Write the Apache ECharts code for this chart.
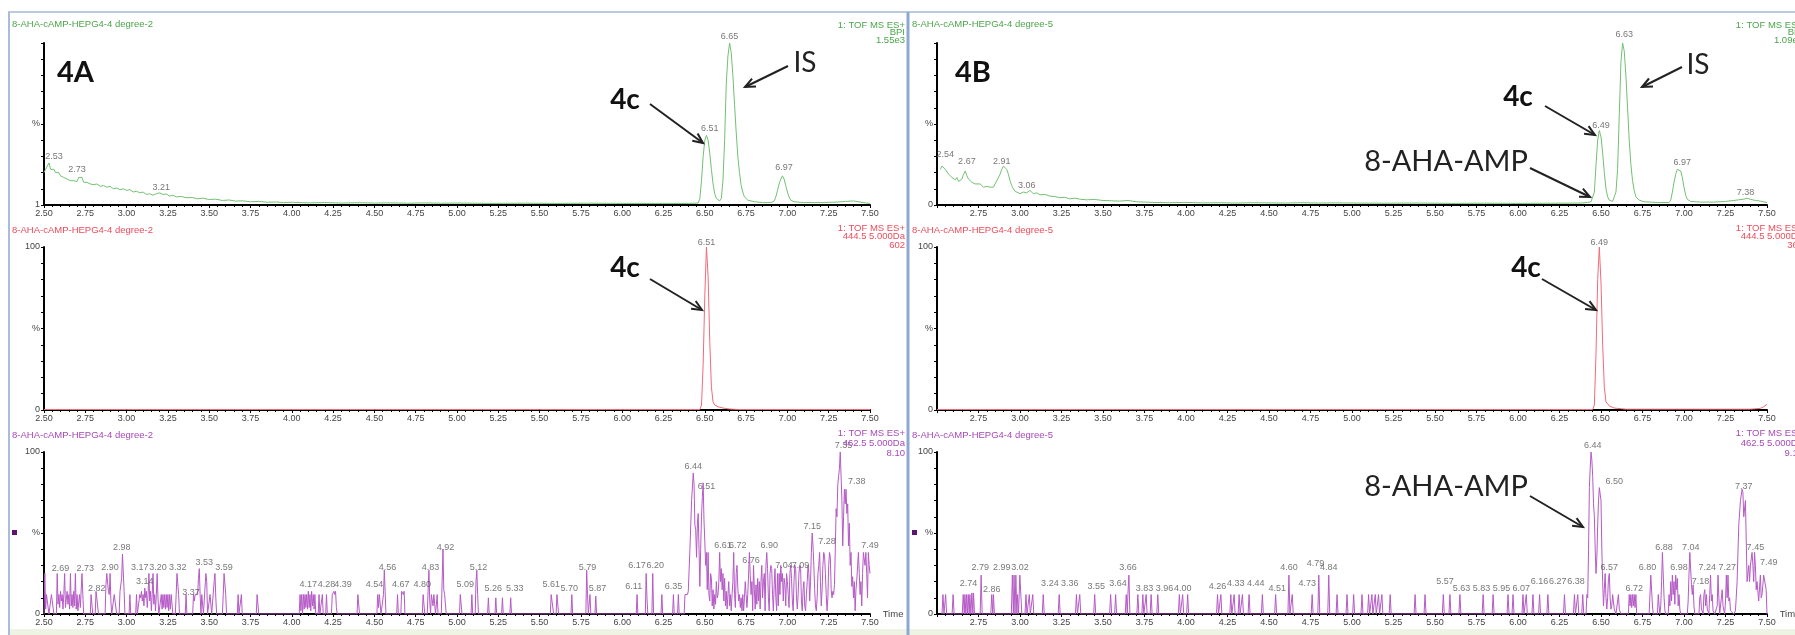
<!DOCTYPE html>
<html><head><meta charset="utf-8">
<script src="https://cdn.jsdelivr.net/npm/echarts/dist/echarts.min.js"></script>
<style>html,body{margin:0;padding:0;background:#fff}#c{width:1795px;height:635px}</style>
</head><body><div id="c"></div>
<script>
// ---------------- DATA ----------------
const timeTicks = ['2.50','2.75','3.00','3.25','3.50','3.75','4.00','4.25','4.50','4.75','5.00','5.25','5.50','5.75','6.00','6.25','6.50','6.75','7.00','7.25','7.50'];
const panelNames = ['4A','4B'];
const sampleNames = ['8-AHA-cAMP-HEPG4-4 degree-2','8-AHA-cAMP-HEPG4-4 degree-5'];
const infoA = [['1: TOF MS ES+','BPI','1.55e3'],['1: TOF MS ES+','444.5 5.000Da','602'],['1: TOF MS ES+','462.5 5.000Da','8.10']];
const infoB = [['1: TOF MS ES+','BPI','1.09e3'],['1: TOF MS ES+','444.5 5.000Da','364'],['1: TOF MS ES+','462.5 5.000Da','9.10']];

// 4A, BPI trace (% of 1.55e3)
const bpiA = [[2.50,20],[2.51,22],[2.52,24],[2.53,26],[2.54,22],[2.55,21],[2.56,22],[2.57,20],[2.58,19],[2.59,20],[2.60,18],[2.61,19],[2.62,17],[2.63,18],[2.64,16],[2.65,17],[2.66,15],[2.67,16],[2.68,15],[2.69,16],[2.70,14.5],[2.71,17],[2.72,18],[2.73,17],[2.74,14],[2.76,14],[2.78,13],[2.80,12.5],[2.82,13],[2.84,11.5],[2.86,12],[2.88,11],[2.90,11.5],[2.92,10],[2.94,10.5],[2.96,9.5],[2.98,10],[3.00,9],[3.02,9.5],[3.04,8],[3.06,8.5],[3.08,7.5],[3.10,8],[3.12,6.5],[3.14,7],[3.16,6],[3.18,7],[3.20,7.5],[3.22,6.5],[3.24,6.8],[3.26,5.5],[3.28,6],[3.30,5],[3.33,5.3],[3.36,4.5],[3.40,4.6],[3.43,3.8],[3.46,4.2],[3.50,3.4],[3.54,3.6],[3.58,2.8],[3.62,3.1],[3.66,2.4],[3.70,2.6],[3.75,2.0],[3.80,2.2],[3.85,1.7],[3.90,1.9],[3.95,1.5],[4.00,1.7],[4.10,1.3],[4.20,1.5],[4.30,1.2],[4.40,1.4],[4.50,1.2],[4.60,1.3],[4.70,1.1],[4.80,1.3],[4.90,1.1],[5.00,1.2],[5.20,1.0],[5.40,1.1],[5.60,1.0],[5.80,1.1],[6.00,1.0],[6.20,1.0],[6.40,1.0],[6.46,1.2],[6.47,4],[6.48,15],[6.49,30],[6.50,40],[6.51,43],[6.52,40],[6.53,32],[6.54,22],[6.55,13],[6.56,7],[6.57,4],[6.58,3],[6.59,2.5],[6.60,4],[6.61,15],[6.62,40],[6.63,75],[6.64,92],[6.65,100],[6.66,94],[6.67,80],[6.68,62],[6.69,45],[6.70,30],[6.71,20],[6.72,12],[6.73,8],[6.74,5],[6.76,3],[6.80,2],[6.85,1.5],[6.90,1.5],[6.92,2.5],[6.93,5],[6.94,9],[6.95,13],[6.96,16],[6.97,18],[6.98,16],[6.99,12],[7.00,8],[7.01,5],[7.02,3],[7.04,2],[7.10,1.5],[7.20,1.5],[7.30,1.8],[7.35,2.2],[7.40,2.5],[7.44,1.8],[7.48,1.2],[7.50,1.0]];
const bpiAPeaks = [[2.56,30,'2.53'],[2.70,22,'2.73'],[3.21,11,'3.21'],[6.53,47,'6.51'],[6.65,104,'6.65'],[6.98,23,'6.97']];

// 4A, XIC 444.5 (% of 602)
const xic444A = [[2.50,0.3],[3.00,0.3],[3.50,0.3],[4.00,0.3],[4.50,0.3],[5.00,0.3],[5.50,0.3],[6.00,0.3],[6.47,0.3],[6.48,3],[6.49,28],[6.50,70],[6.51,100],[6.52,82],[6.53,42],[6.54,14],[6.55,5],[6.56,3],[6.58,2],[6.61,1.2],[6.65,0.6],[6.70,0.3],[7.50,0.3]];
const xic444APeaks = [[6.51,103,'6.51']];

// 4A, XIC 462.5 (% of 8.10)
const xic462A = [[2.500,0],[2.505,25],[2.510,3],[2.515,12],[2.525,12],[2.530,0],[2.540,0],[2.545,12],[2.555,12],[2.560,0],
[2.575,0],[2.580,25],[2.585,6],[2.590,12],[2.595,4],[2.600,14],[2.605,8],[2.610,12],[2.615,3],[2.620,12],[2.625,25],[2.630,4],[2.640,14],[2.645,6],[2.650,12],[2.655,3],[2.660,25],[2.665,5],[2.670,12],[2.675,4],[2.680,14],[2.685,5],[2.690,25],[2.695,3],[2.700,12],[2.705,2],[2.715,12],[2.720,4],[2.730,25],[2.735,12],[2.740,0],
[2.780,0],[2.785,12],[2.790,12],[2.795,0],[2.810,0],[2.815,14],[2.825,14],[2.830,0],
[2.870,0],[2.875,18],[2.880,25],[2.885,25],[2.890,14],[2.895,12],[2.900,25],[2.905,8],[2.910,0],[2.920,0],[2.925,12],[2.935,12],[2.940,0],[2.955,0],[2.960,14],[2.965,14],[2.970,22],[2.975,37],[2.980,37],[2.985,14],[2.990,0],
[3.015,0],[3.020,12],[3.025,0],[3.055,0],[3.060,12],[3.065,0],[3.075,0],[3.080,12],[3.085,10],[3.090,14],[3.095,8],[3.100,12],[3.105,5],[3.110,16],[3.115,10],[3.120,14],[3.125,4],[3.130,12],[3.135,25],[3.140,8],[3.145,14],[3.150,2],[3.155,12],[3.160,25],[3.165,6],[3.170,12],[3.175,2],[3.180,12],[3.185,25],[3.190,10],[3.195,0],
[3.205,0],[3.210,12],[3.215,3],[3.220,12],[3.225,4],[3.230,12],[3.235,3],[3.240,12],[3.245,4],[3.250,12],[3.255,2],[3.260,12],[3.265,3],[3.270,12],[3.275,12],[3.280,0],[3.295,0],[3.300,12],[3.305,25],[3.310,25],[3.315,12],[3.320,0],
[3.355,0],[3.360,12],[3.365,0],[3.400,0],[3.405,12],[3.410,8],[3.415,12],[3.420,12],[3.425,12],[3.430,12],[3.435,22],[3.440,28],[3.445,12],[3.450,0],[3.455,12],[3.460,12],[3.465,0],[3.475,0],[3.480,25],[3.485,20],[3.490,0],[3.500,0],[3.505,12],[3.510,12],[3.515,0],[3.525,0],[3.530,20],[3.535,25],[3.540,10],[3.545,0],
[3.580,0],[3.585,12],[3.590,25],[3.595,25],[3.600,12],[3.605,0],[3.670,0],[3.675,12],[3.680,0],[3.690,0],[3.695,12],[3.700,0],[3.785,0],[3.790,12],[3.795,12],[3.800,0],
[4.045,0],[4.050,12],[4.055,2],[4.060,12],[4.065,0],[4.070,12],[4.075,3],[4.080,12],[4.085,4],[4.090,12],[4.095,3],[4.100,14],[4.105,4],[4.110,12],[4.115,2],[4.120,14],[4.125,5],[4.130,12],[4.135,3],[4.140,12],[4.145,0],[4.160,0],[4.165,12],[4.170,0],[4.180,0],[4.185,12],[4.190,0],[4.205,0],[4.210,12],[4.215,0],[4.240,0],[4.245,12],[4.250,12],[4.255,14],[4.260,12],[4.265,14],[4.270,4],[4.275,0],
[4.395,0],[4.400,12],[4.405,12],[4.410,0],
[4.515,0],[4.520,12],[4.525,4],[4.530,12],[4.535,12],[4.540,0],[4.550,0],[4.555,12],[4.560,27],[4.565,14],[4.570,0],
[4.635,0],[4.640,12],[4.645,0],[4.660,0],[4.665,14],[4.670,14],[4.675,12],[4.680,14],[4.685,0],
[4.790,0],[4.795,12],[4.800,12],[4.805,0],[4.820,0],[4.825,14],[4.830,27],[4.835,8],[4.840,0],[4.845,12],[4.850,12],[4.855,5],[4.860,12],[4.865,12],[4.870,0],[4.875,0],[4.880,12],[4.885,0],[4.905,0],[4.910,20],[4.915,40],[4.920,15],[4.925,12],[4.930,12],[4.935,0],
[5.015,0],[5.020,12],[5.025,12],[5.030,0],[5.085,0],[5.090,12],[5.095,0],[5.110,0],[5.115,20],[5.120,27],[5.125,12],[5.130,0],
[5.185,0],[5.190,10],[5.195,0],[5.230,0],[5.235,10],[5.240,0],[5.270,0],[5.275,10],[5.280,0],[5.320,0],[5.325,10],[5.330,0],
[5.565,0],[5.570,12],[5.575,12],[5.580,12],[5.585,0],[5.600,0],[5.605,12],[5.610,12],[5.615,0],[5.690,0],[5.695,12],[5.700,0],[5.780,0],[5.785,27],[5.790,12],[5.795,0],[5.800,0],[5.805,12],[5.810,0],
[5.835,0],[5.840,11],[5.845,0],
[6.085,0],[6.090,12],[6.095,0],[6.140,0],[6.145,25],[6.150,10],[6.155,0],[6.180,0],[6.185,25],[6.190,0],[6.235,0],[6.240,12],[6.245,0],[6.305,0],[6.310,12],[6.315,0],[6.335,0],[6.340,12],[6.345,0],[6.375,0],[6.380,12],[6.395,12],[6.400,14],
[6.405,14],[6.410,40],[6.420,70],[6.430,87],[6.435,80],[6.440,55],[6.445,52],[6.450,35],[6.455,55],[6.460,62],[6.465,40],[6.470,17],[6.475,40],[6.480,60],[6.485,72],[6.490,81],[6.495,58],[6.500,45],[6.505,30],[6.510,38],[6.515,15],[6.520,38],[6.525,12],[6.530,8],[6.535,25],[6.540,22],[6.545,5],[6.550,15],[6.555,3],[6.560,12],[6.565,6],[6.570,20],[6.575,10],[6.580,12],[6.585,20],[6.590,38],[6.595,20],[6.600,28],[6.605,15],[6.610,25],[6.615,8],[6.620,22],[6.625,5],[6.630,14],[6.635,3],[6.640,12],[6.645,20],[6.650,5],[6.655,12],[6.660,2],[6.665,12],[6.670,20],[6.675,38],[6.680,12],[6.685,4],[6.690,25],[6.695,30],[6.700,16],[6.705,8],[6.710,12],[6.715,4],[6.720,10],[6.725,2],[6.730,12],[6.735,2],[6.740,10],[6.745,20],[6.750,12],[6.755,4],[6.760,12],[6.765,24],[6.770,38],[6.775,24],[6.780,12],[6.785,20],[6.790,2],[6.795,30],[6.800,15],[6.805,3],[6.810,18],[6.815,6],[6.820,22],[6.825,8],[6.830,20],[6.835,3],[6.840,20],[6.845,30],[6.850,10],[6.855,20],[6.860,25],[6.865,2],[6.870,30],[6.875,38],[6.880,28],[6.885,10],[6.890,2],[6.895,25],[6.900,30],[6.905,28],[6.910,12],[6.915,2],[6.920,18],[6.925,28],[6.930,10],[6.935,2],[6.940,25],[6.945,5],[6.950,25],[6.955,12],[6.960,30],[6.965,20],[6.970,25],[6.975,8],[6.980,22],[6.985,18],[6.990,5],[6.995,25],[7.000,20],[7.005,12],[7.010,4],[7.015,25],[7.020,30],[7.025,22],[7.030,8],[7.035,2],[7.040,20],[7.045,30],[7.050,28],[7.055,10],[7.060,3],[7.065,12],[7.070,25],[7.075,30],[7.080,28],[7.085,8],[7.090,2],[7.095,15],[7.100,20],[7.105,5],[7.110,2],[7.115,12],[7.120,20],[7.125,30],[7.130,25],[7.135,8],[7.140,20],[7.145,38],[7.150,50],[7.155,42],[7.160,30],[7.165,15],[7.170,5],[7.175,2],[7.180,10],[7.185,25],[7.190,30],[7.195,38],[7.200,20],[7.205,5],[7.210,15],[7.215,30],[7.220,38],[7.225,36],[7.230,25],[7.235,12],[7.240,2],[7.245,10],[7.250,30],[7.255,38],[7.260,35],[7.265,15],[7.270,10],[7.275,14],[7.280,12],[7.285,18],[7.290,40],[7.295,65],[7.300,60],[7.305,80],[7.310,85],[7.315,90],[7.320,100],[7.325,100],[7.330,70],[7.335,42],[7.340,60],[7.345,77],[7.350,68],[7.355,77],[7.360,62],[7.365,68],[7.370,42],[7.375,56],[7.380,30],[7.385,38],[7.390,17],[7.395,23],[7.400,10],[7.405,20],[7.410,2],[7.415,15],[7.420,21],[7.425,30],[7.430,38],[7.435,25],[7.440,12],[7.445,20],[7.450,5],[7.455,25],[7.460,38],[7.465,38],[7.470,30],[7.475,38],[7.480,25],[7.485,10],[7.490,38],[7.495,30],[7.500,25]];
const xic462APeaks = [[2.60,28,'2.69'],[2.75,28,'2.73'],[2.82,15.5,'2.82'],[2.90,29,'2.90'],[2.97,41,'2.98'],[3.11,20,'3.14'],[3.08,29,'3.17'],[3.19,29,'3.20'],[3.31,29,'3.32'],[3.39,13,'3.37'],[3.47,32,'3.53'],[3.59,29,'3.59'],[4.10,18.5,'4.17'],[4.21,18.5,'4.28'],[4.31,18.5,'4.39'],[4.50,18.5,'4.54'],[4.58,29,'4.56'],[4.66,18.5,'4.67'],[4.79,18.5,'4.80'],[4.84,29,'4.83'],[4.93,41,'4.92'],[5.05,18.5,'5.09'],[5.13,29,'5.12'],[5.22,15.5,'5.26'],[5.35,15.5,'5.33'],[5.57,18.5,'5.61'],[5.68,15.5,'5.70'],[5.79,29,'5.79'],[5.85,16,'5.87'],[6.07,17,'6.11'],[6.09,30,'6.17'],[6.20,30,'6.20'],[6.31,17,'6.35'],[6.43,91,'6.44'],[6.51,79,'6.51'],[6.61,42,'6.61'],[6.70,42,'6.72'],[6.78,33,'6.76'],[6.89,42,'6.90'],[6.98,30,'7.04'],[7.08,30,'7.09'],[7.15,54,'7.15'],[7.24,45,'7.28'],[7.34,104,'7.35'],[7.42,82,'7.38'],[7.50,42,'7.49']];

// 4B, BPI trace (% of 1.09e3)
const bpiB = [[2.52,22],[2.53,24],[2.54,25],[2.55,22],[2.56,21],[2.57,19],[2.58,20],[2.59,17],[2.60,18],[2.61,15.5],[2.62,17],[2.63,14.5],[2.64,15],[2.65,16],[2.66,19],[2.67,21],[2.68,18],[2.69,16],[2.70,15],[2.71,14],[2.72,15],[2.73,13],[2.74,12.5],[2.76,13],[2.78,11],[2.80,11.5],[2.82,11],[2.84,11],[2.85,11.5],[2.86,15],[2.87,16],[2.88,19],[2.89,22],[2.90,24],[2.91,24],[2.92,22],[2.93,19],[2.94,15],[2.95,12],[2.96,10],[2.97,8.5],[2.98,7.5],[3.00,7],[3.02,8],[3.04,7.5],[3.06,9],[3.08,7],[3.10,7.5],[3.12,6.3],[3.15,6.5],[3.18,5.5],[3.21,5.2],[3.24,4.5],[3.27,4.8],[3.30,3.8],[3.33,4.2],[3.36,3.6],[3.40,3.2],[3.45,3.4],[3.50,2.8],[3.55,2.6],[3.60,2.4],[3.65,2.8],[3.70,2.0],[3.75,1.8],[3.80,1.6],[3.90,1.4],[4.00,1.6],[4.10,1.3],[4.20,1.4],[4.30,1.2],[4.40,1.4],[4.50,1.3],[4.60,1.2],[4.70,1.4],[4.80,1.2],[4.90,1.3],[5.00,1.2],[5.20,1.1],[5.40,1.2],[5.60,1.0],[5.80,1.1],[6.00,1.0],[6.20,1.1],[6.38,1.2],[6.42,1.6],[6.44,2.0],[6.45,2.5],[6.46,8],[6.47,25],[6.48,40],[6.49,46],[6.50,42],[6.51,32],[6.52,20],[6.53,10],[6.54,5],[6.55,3],[6.56,2.5],[6.57,2.2],[6.58,3],[6.59,8],[6.60,22],[6.61,55],[6.62,88],[6.63,100],[6.64,95],[6.65,80],[6.66,60],[6.67,40],[6.68,25],[6.69,15],[6.70,9],[6.71,5],[6.73,3],[6.76,2],[6.85,1.5],[6.91,1.5],[6.92,3],[6.93,8],[6.94,14],[6.95,19],[6.96,22],[6.97,23],[6.98,21],[6.99,17],[7.00,11],[7.01,6],[7.02,3.5],[7.04,2.2],[7.10,1.8],[7.18,1.8],[7.25,2.2],[7.30,2.8],[7.33,3.2],[7.36,3.6],[7.38,4.2],[7.40,3.5],[7.43,2.8],[7.46,2.4],[7.50,1.5]];
const bpiBPeaks = [[2.55,31,'2.54'],[2.68,27,'2.67'],[2.89,27,'2.91'],[3.04,12,'3.06'],[6.64,105,'6.63'],[6.50,49,'6.49'],[6.99,26,'6.97'],[7.37,7.5,'7.38']];

// 4B, XIC 444.5
const xic444B = [[2.50,0.3],[3.00,0.3],[3.50,0.3],[4.00,0.3],[4.50,0.3],[5.00,0.3],[5.50,0.3],[6.00,0.3],[6.45,0.3],[6.46,3],[6.47,35],[6.48,80],[6.49,100],[6.50,78],[6.51,40],[6.52,14],[6.53,5],[6.55,2.5],[6.58,1.2],[6.65,0.5],[7.40,0.5],[7.46,1],[7.48,2],[7.50,3.5]];
const xic444BPeaks = [[6.49,103,'6.49']];

// 4B, XIC 462.5
const xic462B = [[2.530,0],[2.536,12],[2.542,0],[2.546,0],[2.552,12],[2.558,0],
[2.591,0],[2.597,12],[2.603,0],
[2.652,0],[2.658,12],[2.664,0],[2.668,12],[2.674,0],[2.678,12],[2.684,0],[2.688,12],[2.694,0],[2.698,12],[2.704,0],[2.710,13],[2.716,0],[2.720,13],[2.726,0],
[2.760,0],[2.766,24],[2.772,0],
[2.824,0],[2.830,12],[2.836,0],[2.840,12],[2.846,0],
[2.948,0],[2.954,24],[2.960,0],[2.964,24],[2.970,0],[2.975,24],[2.981,0],[2.985,12],[2.991,0],[2.999,24],[3.005,24],[3.011,0],[3.030,0],[3.036,12],[3.042,0],[3.050,0],[3.056,12],[3.062,0],[3.071,0],[3.077,12],[3.083,0],
[3.134,0],[3.140,12],[3.146,0],
[3.230,0],[3.236,12],[3.242,0],
[3.334,0],[3.340,12],[3.346,0],[3.354,0],[3.360,12],[3.366,0],
[3.444,0],[3.450,12],[3.456,0],
[3.540,0],[3.546,12],[3.552,0],[3.570,0],[3.576,12],[3.582,0],
[3.634,0],[3.640,12],[3.646,0],[3.650,12],[3.656,24],[3.662,0],
[3.704,0],[3.710,12],[3.716,0],[3.734,0],[3.740,12],[3.746,0],[3.754,0],[3.760,12],[3.766,0],[3.784,0],[3.790,12],[3.796,0],[3.824,0],[3.830,12],[3.836,0],
[3.954,0],[3.960,12],[3.966,0],[3.974,0],[3.980,12],[3.986,0],[4.004,0],[4.010,12],[4.016,0],
[4.184,0],[4.190,12],[4.196,0],[4.204,0],[4.210,12],[4.216,0],
[4.264,0],[4.270,12],[4.276,0],[4.284,0],[4.290,12],[4.296,0],[4.314,0],[4.320,12],[4.326,0],[4.334,0],[4.340,12],[4.346,0],[4.374,0],[4.380,12],[4.386,0],
[4.454,0],[4.460,12],[4.466,0],[4.534,0],[4.540,12],[4.546,0],
[4.614,0],[4.620,24],[4.626,0],[4.634,0],[4.640,12],[4.646,0],
[4.754,0],[4.760,12],[4.766,0],[4.794,0],[4.800,24],[4.806,0],[4.854,0],[4.860,24],[4.866,0],[4.904,0],[4.910,12],[4.916,0],[4.964,0],[4.970,12],[4.976,0],
[5.004,0],[5.010,12],[5.016,0],[5.054,0],[5.060,12],[5.066,0],[5.094,0],[5.100,12],[5.106,0],[5.114,0],[5.120,12],[5.126,0],[5.134,0],[5.140,12],[5.146,0],[5.154,0],[5.160,12],[5.166,0],[5.174,0],[5.180,12],[5.186,0],[5.224,0],[5.230,12],[5.236,0],
[5.374,0],[5.380,12],[5.386,0],[5.434,0],[5.440,12],[5.446,0],[5.544,0],[5.550,12],[5.556,0],[5.584,0],[5.590,12],[5.596,0],[5.644,0],[5.650,12],[5.656,0],
[5.784,0],[5.790,12],[5.796,0],[5.844,0],[5.850,12],[5.856,0],[5.934,0],[5.940,12],[5.946,0],[5.964,0],[5.970,12],[5.976,0],
[6.024,0],[6.030,12],[6.036,0],[6.044,0],[6.050,12],[6.056,0],[6.084,0],[6.090,12],[6.096,0],[6.124,0],[6.130,12],[6.136,0],[6.174,0],[6.180,12],[6.186,0],
[6.274,0],[6.280,12],[6.286,0],[6.334,0],[6.340,12],[6.346,0],[6.354,0],[6.360,12],[6.366,0],[6.384,0],[6.390,12],[6.396,0],
[6.410,0],[6.415,12],[6.420,10],[6.425,40],[6.430,78],[6.435,90],[6.440,100],[6.445,95],[6.450,85],[6.455,68],[6.460,60],[6.465,40],[6.470,25],[6.475,35],[6.480,55],[6.485,70],[6.490,78],[6.495,78],[6.500,70],[6.505,40],[6.510,20],[6.515,5],[6.520,15],[6.525,25],[6.530,10],[6.535,3],[6.540,10],[6.545,22],[6.550,25],[6.555,10],[6.560,3],[6.565,5],[6.570,12],[6.575,12],[6.580,3],[6.590,0],[6.600,0],[6.605,12],[6.610,3],[6.620,0],
[6.665,0],[6.670,12],[6.675,5],[6.680,12],[6.685,4],[6.690,12],[6.695,5],[6.700,12],[6.705,4],[6.710,12],[6.715,0],
[6.790,0],[6.800,24],[6.810,5],[6.815,0],[6.840,0],[6.845,12],[6.850,5],[6.855,0],[6.860,5],[6.865,20],[6.870,38],[6.875,38],[6.880,10],[6.885,2],[6.890,0],
[6.905,0],[6.910,12],[6.915,5],[6.920,20],[6.925,8],[6.930,24],[6.935,12],[6.940,20],[6.945,6],[6.950,24],[6.955,15],[6.960,22],[6.965,5],[6.970,12],[6.975,3],[6.980,0],
[7.020,0],[7.025,8],[7.030,24],[7.035,38],[7.040,38],[7.045,18],[7.050,12],[7.055,18],[7.060,5],[7.065,0],
[7.090,0],[7.095,10],[7.100,12],[7.105,3],[7.115,0],[7.120,12],[7.125,15],[7.130,5],[7.135,12],[7.140,3],[7.150,0],[7.155,12],[7.160,24],[7.165,8],[7.170,12],[7.175,2],[7.185,0],
[7.190,0],[7.200,5],[7.205,24],[7.210,10],[7.215,0],[7.225,0],[7.230,15],[7.235,5],[7.245,0],[7.250,8],[7.255,24],[7.260,10],[7.265,24],[7.270,8],[7.275,10],[7.280,2],[7.300,0],[7.310,2],[7.320,20],[7.330,55],[7.340,70],[7.350,77],[7.355,75],[7.360,60],[7.370,70],[7.375,45],[7.380,20],[7.390,30],[7.395,20],[7.400,30],[7.410,38],[7.415,30],[7.420,20],[7.425,38],[7.430,30],[7.435,15],[7.440,20],[7.450,8],[7.460,24],[7.465,10],[7.470,12],[7.480,24],[7.490,24],[7.495,15],[7.500,0]];
const xic462BPeaks = [[2.69,19,'2.74'],[2.76,29,'2.79'],[2.83,15,'2.86'],[2.89,29,'2.99'],[3.00,29,'3.02'],[3.18,19,'3.24'],[3.30,19,'3.36'],[3.46,17,'3.55'],[3.59,19,'3.64'],[3.65,29,'3.66'],[3.75,16,'3.83'],[3.87,16,'3.96'],[3.98,16,'4.00'],[4.19,17,'4.26'],[4.30,19,'4.33'],[4.42,19,'4.44'],[4.55,16,'4.51'],[4.62,29,'4.60'],[4.73,19,'4.73'],[4.78,31,'4.79'],[4.86,29,'4.84'],[5.56,20,'5.57'],[5.66,15.5,'5.63'],[5.78,15.5,'5.83'],[5.90,15.5,'5.95'],[6.02,15.5,'6.07'],[6.13,20,'6.16'],[6.24,20,'6.27'],[6.35,20,'6.38'],[6.45,104,'6.44'],[6.58,82,'6.50'],[6.55,29,'6.57'],[6.70,15.5,'6.72'],[6.78,29,'6.80'],[6.88,41,'6.88'],[6.97,29,'6.98'],[7.04,41,'7.04'],[7.10,20,'7.18'],[7.14,29,'7.24'],[7.26,29,'7.27'],[7.36,79,'7.37'],[7.43,41,'7.45'],[7.51,32,'7.49']];

// ---------------- LAYOUT / STYLE ----------------
const colLeft = [44, 937], colWidth = [826, 830];
const rowTop = [43, 247, 452], rowHeight = [162, 163, 162];
const traceColor = ['#72c072', '#f26a78', '#b55ac6'];
const textColor = ['#4aa64a', '#f04a5a', '#a848ba'];
const FONT = 'Liberation Sans, Arial, sans-serif';

const traces = [
  [bpiA, xic444A, xic462A],
  [bpiB, xic444B, xic462B]
];
const peaks = [
  [bpiAPeaks, xic444APeaks, xic462APeaks],
  [bpiBPeaks, xic444BPeaks, xic462BPeaks]
];
const yBottom = [['1','0','0'],['0','0','0']];

const grids = [], xAxes = [], yAxes = [], series = [];
for (let c = 0; c < 2; c++) {
  for (let r = 0; r < 3; r++) {
    const g = c * 3 + r;
    grids.push({left: colLeft[c], top: rowTop[r], width: colWidth[c], height: rowHeight[r], containLabel: false, outerBoundsMode: 'none'});
    xAxes.push({
      gridIndex: g, type: 'value', min: 2.5, max: 7.5, interval: 0.25,
      axisLine: {onZero: false, lineStyle: {color: '#000', width: 2}},
      axisTick: {show: true, length: 3, lineStyle: {color: '#000', width: 1}},
      minorTick: {show: true, splitNumber: 5, length: 2, lineStyle: {color: '#000', width: 1}},
      splitLine: {show: false}, minorSplitLine: {show: false},
      axisLabel: {
        fontSize: 9, fontFamily: FONT, color: '#444', margin: 4, hideOverlap: false, showMinLabel: true, showMaxLabel: true,
        formatter: v => { const i = Math.round((v - 2.5) / 0.25); const s = timeTicks[i] || ''; return (c === 1 && i === 0) ? '' : s; }
      },
      name: r === 2 ? 'Time' : '', nameLocation: 'end', nameGap: 8,
      nameTextStyle: {fontSize: 9.5, fontFamily: FONT, color: '#444', verticalAlign: 'middle'}
    });
    yAxes.push({
      gridIndex: g, type: 'value', min: 0, max: 100, interval: 10,
      axisLine: {show: true, onZero: false, lineStyle: {color: '#000', width: 2}},
      axisTick: {show: true, length: 3, lineStyle: {color: '#000', width: 1}},
      splitLine: {show: false},
      axisLabel: {
        fontSize: 9, fontFamily: FONT, color: '#444', margin: 4, showMinLabel: true, showMaxLabel: true,
        formatter: v => v === 0 ? yBottom[c][r] : v === 50 ? '%' : (v === 100 && r > 0 ? '100' : '')
      }
    });
    series.push({
      type: 'line', xAxisIndex: g, yAxisIndex: g, data: traces[c][r], showSymbol: false, symbol: 'none',
      lineStyle: {color: traceColor[r], width: 1}, z: 3, silent: true
    });
    series.push({
      type: 'scatter', xAxisIndex: g, yAxisIndex: g, data: peaks[c][r], symbolSize: 1, clip: false, silent: true,
      itemStyle: {color: 'rgba(0,0,0,0)'}, z: 4,
      label: {show: true, position: 'inside', formatter: p => p.data[2], fontSize: 9, fontFamily: FONT, color: '#555'}
    });
  }
}

// ---------------- GRAPHIC (frame, titles, annotations) ----------------
const graphic = [];
function txt(x, y, text, font, fill, align, valign) {
  graphic.push({type: 'text', x: x, y: y, z: 10, silent: true,
    style: {text: text, font: font, fill: fill, align: align || 'left', verticalAlign: valign || 'middle'}});
}
function arrow(x1, y1, x2, y2) {
  const a = Math.atan2(y2 - y1, x2 - x1), L = 11, s = 0.42;
  graphic.push({type: 'line', z: 10, silent: true, shape: {x1: x1, y1: y1, x2: x2, y2: y2}, style: {stroke: '#222', lineWidth: 2}});
  graphic.push({type: 'polyline', z: 10, silent: true, shape: {points: [
    [x2 - L * Math.cos(a - s), y2 - L * Math.sin(a - s)], [x2, y2], [x2 - L * Math.cos(a + s), y2 - L * Math.sin(a + s)]]},
    style: {stroke: '#222', lineWidth: 2, fill: null}});
}
// frame
graphic.push({type: 'rect', z: 0, silent: true, shape: {x: 10, y: 629, width: 1785, height: 6}, style: {fill: '#eef3e4'}});
graphic.push({type: 'line', z: 1, silent: true, shape: {x1: 8, y1: 12, x2: 1795, y2: 12}, style: {stroke: '#bccadf', lineWidth: 2}});
graphic.push({type: 'line', z: 1, silent: true, shape: {x1: 9, y1: 12, x2: 9, y2: 635}, style: {stroke: '#a9bcd9', lineWidth: 2}});
graphic.push({type: 'line', z: 1, silent: true, shape: {x1: 908, y1: 12, x2: 908, y2: 635}, style: {stroke: '#8ea8d4', lineWidth: 3}});
// purple markers
graphic.push({type: 'rect', z: 5, silent: true, shape: {x: 12, y: 530, width: 5, height: 5}, style: {fill: '#5b1670'}});
graphic.push({type: 'rect', z: 5, silent: true, shape: {x: 912, y: 530, width: 5, height: 5}, style: {fill: '#5b1670'}});
// titles and info blocks
const titleY = [24, 230, 435];
const infoY = [[25, 32.5, 40], [228, 236.5, 245], [433, 443, 453]];
const infoRight = [905, 1803];
for (let c = 0; c < 2; c++) {
  const info = c === 0 ? infoA : infoB;
  for (let r = 0; r < 3; r++) {
    txt(c === 0 ? 12 : 912, titleY[r], sampleNames[c], '9.5px ' + FONT, textColor[r]);
    for (let k = 0; k < 3; k++) txt(infoRight[c], infoY[r][k], info[r][k], '9.5px ' + FONT, textColor[r], 'right');
  }
}
// panel labels and annotations
txt(57, 73, panelNames[0], 'bold 29px Lato, sans-serif', '#111');
txt(955, 73, panelNames[1], 'bold 29px Lato, sans-serif', '#111');
txt(625, 100, '4c', 'bold 28px Lato, sans-serif', '#111', 'center');
arrow(650, 104, 703, 143);
txt(805, 63, 'IS', '28px Lato, sans-serif', '#222', 'center');
arrow(788, 66, 745, 87);
txt(625, 268, '4c', 'bold 28px Lato, sans-serif', '#111', 'center');
arrow(650, 279, 702, 310);
txt(1518, 97, '4c', 'bold 28px Lato, sans-serif', '#111', 'center');
arrow(1545, 106, 1595, 135);
txt(1698, 65, 'IS', '28px Lato, sans-serif', '#222', 'center');
arrow(1682, 67, 1642, 87);
txt(1446, 162, '8-AHA-AMP', '29px Lato, sans-serif', '#222', 'center');
arrow(1530, 168, 1590, 197);
txt(1526, 268, '4c', 'bold 28px Lato, sans-serif', '#111', 'center');
arrow(1542, 279, 1596, 310);
txt(1446, 487, '8-AHA-AMP', '29px Lato, sans-serif', '#222', 'center');
arrow(1530, 496, 1583, 527);

const chart = echarts.init(document.getElementById('c'), null, {renderer: 'canvas'});
chart.setOption({
  animation: false,
  backgroundColor: '#fff',
  grid: grids, xAxis: xAxes, yAxis: yAxes, series: series, graphic: graphic
});
</script>
</body></html>
